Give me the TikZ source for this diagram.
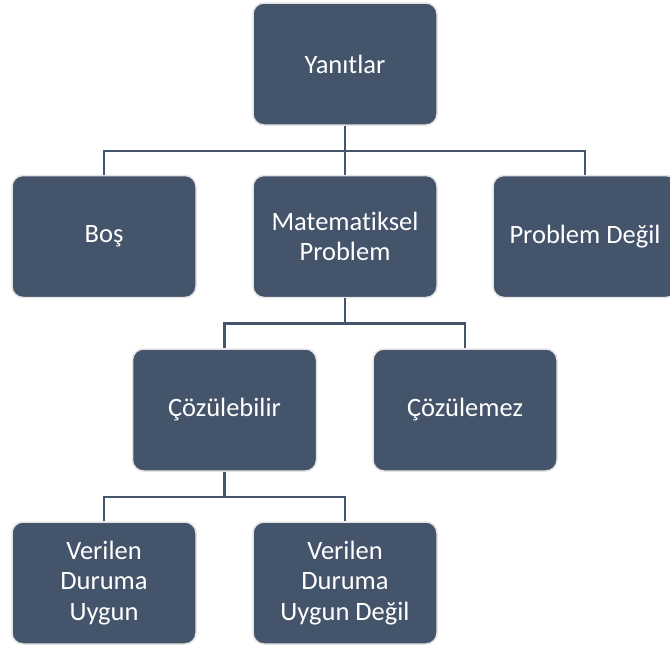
\documentclass[tikz,border=0pt]{standalone}
\usepackage{fontspec}
\setmainfont{Carlito}[RawFeature={-liga}]
\definecolor{boxblue}{HTML}{44546A}
\definecolor{boxedge}{HTML}{E4E4E4}
\begin{document}
\begin{tikzpicture}[x=1pt,y=-1pt,
  orgbox/.style={rectangle, rounded corners=11pt, fill=boxblue, draw=boxedge, line width=1.5pt,
    minimum width=184pt, minimum height=122pt, text=white, align=center, inner sep=2pt,
    font=\fontsize{26.5}{30.5}\selectfont},
  link/.style={draw=boxblue, line width=2.4pt}]
\useasboundingbox (0,0) rectangle (670,645);
\clip (0,0) rectangle (670,645);
\node[orgbox] (yan) at (345,64) {Yanıtlar};
\node[orgbox] (bos) at (104,236.5) {Boş};
\node[orgbox] (mat) at (345,236.5) {Matematiksel\\Problem};
\node[orgbox] (pd) at (585,236.5) {Problem Değil};
\node[orgbox] (coz) at (224.5,410) {Çözülebilir};
\node[orgbox] (czm) at (465,410) {Çözülemez};
\node[orgbox] (v1) at (104,583) {Verilen\\Duruma\\Uygun};
\node[orgbox] (v2) at (345,583) {Verilen\\Duruma\\Uygun Değil};
\coordinate (j1) at (345,151);
\coordinate (j2) at (345,323.5);
\coordinate (j3) at (224.5,497);
\draw[link] (yan.south) -- (j1);
\draw[link] (bos.north) |- (j1) -| (pd.north);
\draw[link] (j1) -- (mat.north);
\draw[link] (mat.south) -- (j2);
\draw[link] (coz.north) |- (j2) -| (czm.north);
\draw[link] (coz.south) -- (j3);
\draw[link] (v1.north) |- (j3) -| (v2.north);
\end{tikzpicture}
\end{document}
